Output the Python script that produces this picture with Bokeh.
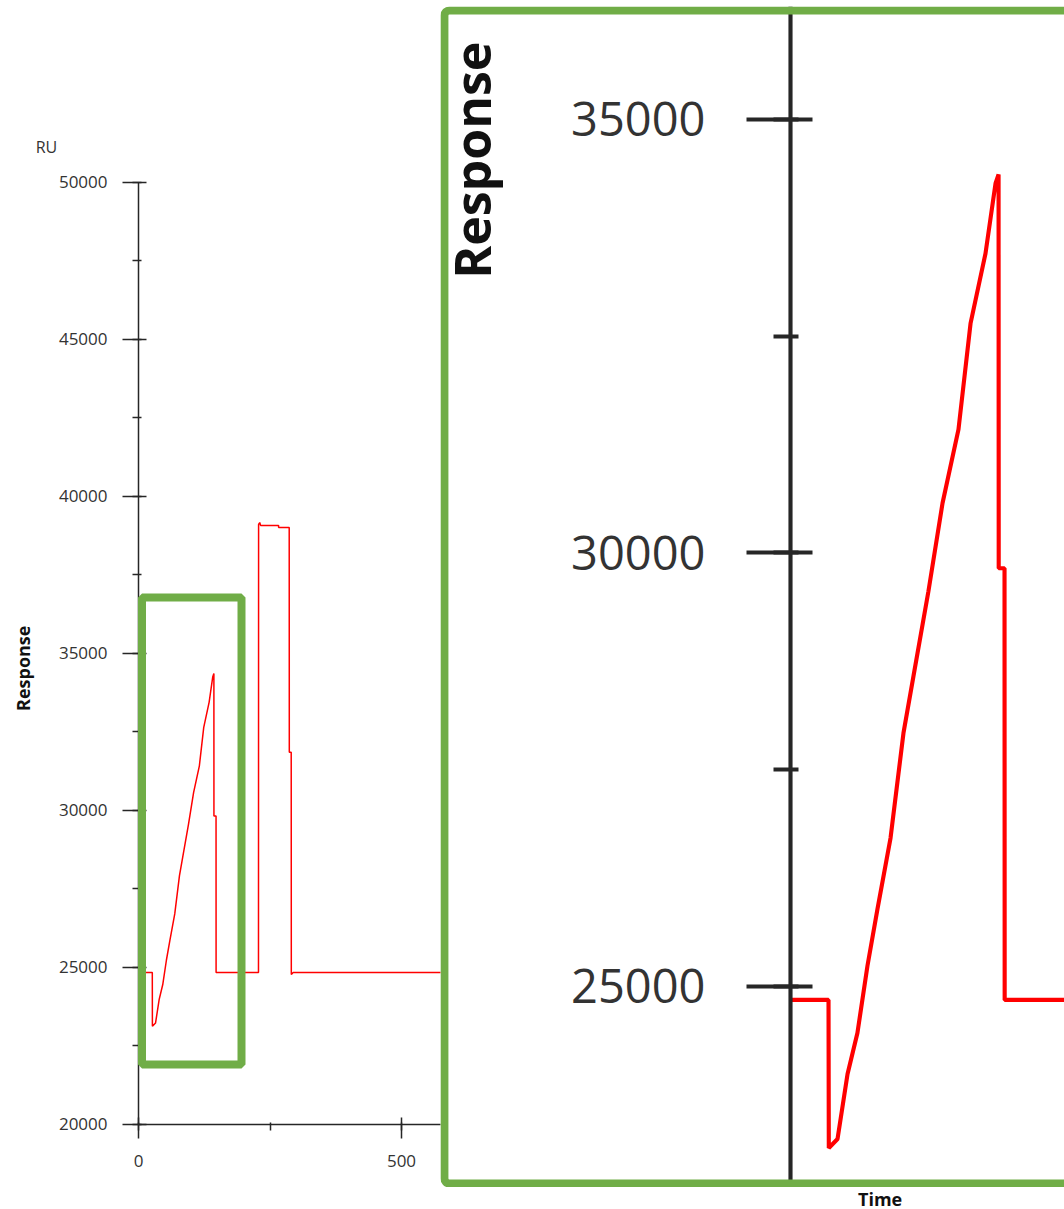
from math import pi

from bokeh.embed import file_html
from bokeh.resources import INLINE
from bokeh.plotting import figure
from bokeh.models import (BoxAnnotation, Column, ColumnDataSource, Label,
                          Range1d, SingleIntervalTicker)

# ---- sensorgram data: time (s) vs response (RU) ----
time_s = [0, 26.2, 26.4, 32.4, 39.3, 46.1, 53.0, 59.9, 68.9, 77.8, 84.7,
          95.0, 104.7, 115.7, 124.0, 134.3, 141.2, 143.3, 143.4, 147.4,
          147.5, 228.1, 228.3, 230.5, 232.0, 266.2, 266.4, 286.5, 286.7,
          290.3, 290.5, 294.0, 1760]
response_ru = [24840, 24840, 23131, 23235, 23985, 24458, 25231, 25888,
               26707, 27918, 28576, 29556, 30571, 31424, 32647, 33454,
               34262, 34366, 29821, 29821, 24840, 24840, 39110, 39170,
               39080, 39080, 39013, 39013, 31857, 31857, 24780, 24840,
               24840]

# highlighted window (time, response) shown enlarged on the right
zoom_time = (6.65, 195.8)
zoom_resp = (21911, 36783)

# view ranges (whole canvas) and axis extents
main_time = (-262.4, 1760.5)
main_resp = (17293, 55796)
main_time_bounds = (0, 1760.5)
main_resp_bounds = (20000, 50000)
inset_time = (-241.0, 188.7)
inset_resp = (22675, 36304)
# frame drawn round the enlarged view (open on the right)
inset_frame_time = (-238.3, 260)
inset_frame_resp = (22721, 36258)

FONT = "Open Sans"
INK = "#333333"
AXIS = "#262626"
TRACE = "#ff0000"
GREEN = "#70ad47"

source = ColumnDataSource(data=dict(t=time_s, ru=response_ru))


def style_axis(ax, k, interval, tick_in, tick_out, minor_in, minor_out, standoff):
    ax.ticker = SingleIntervalTicker(interval=interval, num_minor_ticks=2)
    ax.axis_line_color = AXIS
    ax.axis_line_width = 1.5 * k
    ax.major_tick_line_color = AXIS
    ax.major_tick_line_width = 1.5 * k
    ax.minor_tick_line_color = AXIS
    ax.minor_tick_line_width = 1.5 * k
    ax.major_tick_in = round(tick_in * k)
    ax.major_tick_out = round(tick_out * k)
    ax.minor_tick_in = round(minor_in * k)
    ax.minor_tick_out = round(minor_out * k)
    ax.major_label_standoff = round(standoff * k)
    ax.major_label_text_font = FONT
    ax.major_label_text_font_size = f"{17 * k:.0f}px"
    ax.major_label_text_color = INK


def response_label(k):
    return Label(x=-219, y=34530, text="Response", angle=pi / 2,
                 text_align="center", text_baseline="middle",
                 text_font=FONT, text_font_style="bold",
                 text_font_size=f"{18 * k:.0f}px", text_color="#111111")


# ---- main sensorgram ----
p = figure(width=1064, height=1209,
           x_range=Range1d(*main_time), y_range=Range1d(*main_resp),
           min_border=0, output_backend="svg", toolbar_location=None)
p.outline_line_color = None
p.grid.visible = False
p.background_fill_color = "white"
p.border_fill_color = "white"

xa, ya = p.xaxis[0], p.yaxis[0]
style_axis(xa, 1, 500, 7, 14, 2, 6, 17)
style_axis(ya, 1, 5000, 8, 16, 3, 6, 15)
xa.fixed_location = main_resp_bounds[0]
ya.fixed_location = 0
xa.bounds = main_time_bounds
ya.bounds = main_resp_bounds

p.line("t", "ru", source=source, line_color=TRACE, line_width=1.5)

p.add_layout(BoxAnnotation(left=zoom_time[0], right=zoom_time[1],
                           bottom=zoom_resp[0], top=zoom_resp[1],
                           fill_alpha=0, line_color=GREEN, line_alpha=1,
                           line_width=8))

p.add_layout(response_label(1))
p.add_layout(Label(x=-175, y=51130, text="RU", text_align="center",
                   text_baseline="middle", text_font=FONT,
                   text_font_size="16px", text_color=INK))
p.add_layout(Label(x=1410, y=17640, text="Time", text_align="center",
                   text_baseline="middle", text_font=FONT,
                   text_font_style="bold", text_font_size="18px",
                   text_color="#111111"))

# ---- enlarged view of the injection window ----
K = 2.76
inset = figure(width=624, height=1181,
               x_range=Range1d(*inset_time), y_range=Range1d(*inset_resp),
               min_border=0, x_axis_location=None,
               output_backend="svg", toolbar_location=None,
               styles={"position": "absolute", "left": "440px", "top": "6px",
                       "width": "624px", "height": "1181px",
                       "overflow": "hidden"})
inset.outline_line_color = None
inset.grid.visible = False
inset.background_fill_color = "white"
inset.border_fill_color = "white"
iya = inset.yaxis[0]
style_axis(iya, K, 5000, 8, 16, 3, 6, 15)
iya.fixed_location = 0
inset.line("t", "ru", source=source, line_color=TRACE, line_width=1.5 * K)
inset.add_layout(response_label(K))
inset.add_layout(BoxAnnotation(left=inset_frame_time[0], right=inset_frame_time[1],
                               bottom=inset_frame_resp[0], top=inset_frame_resp[1],
                               fill_alpha=0, line_color=GREEN, line_alpha=1,
                               line_width=8, border_radius=5))

layout = Column(children=[p, inset])

with open("out.html", "w") as f:
    f.write(file_html(layout, INLINE, "Sensorgram"))
